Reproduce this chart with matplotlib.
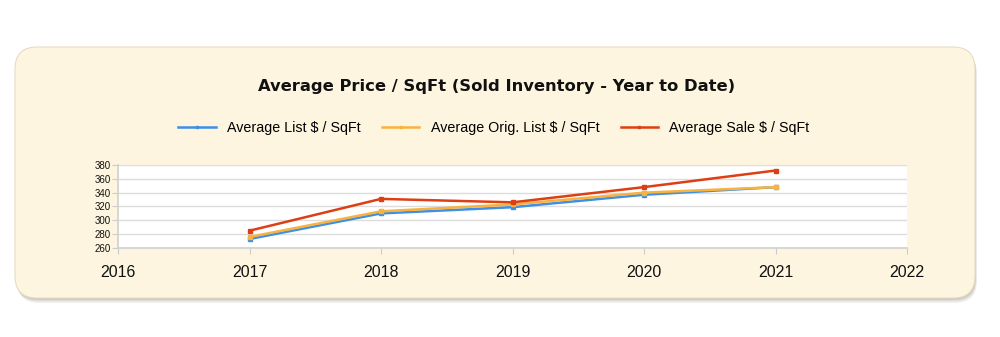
import matplotlib
matplotlib.use('Agg')
import matplotlib.pyplot as plt
from matplotlib.patches import FancyBboxPatch

# Yearly averages, price per square foot
years = [2017, 2018, 2019, 2020, 2021]
avg_list = [273, 310, 319, 337, 348]
avg_orig_list = [276, 313, 323, 340, 348]
avg_sale = [285, 331, 326, 348, 372]

x_ticks = [2016, 2017, 2018, 2019, 2020, 2021, 2022]
y_ticks = [260, 280, 300, 320, 340, 360, 380]

fig = plt.figure(figsize=(10, 3.37), dpi=100)
fig.patch.set_facecolor('white')

# Rounded cream panel with a soft shadow behind it
for off, alpha in [(0.05, 0.12), (0.035, 0.18), (0.02, 0.25)]:
    shadow = FancyBboxPatch((0.15 + off * 0.4, 0.39 - off), 9.6, 2.51,
                            boxstyle='round,pad=0,rounding_size=0.22',
                            transform=fig.dpi_scale_trans, facecolor='#9a9080',
                            edgecolor='none', alpha=alpha, zorder=-2)
    fig.patches.append(shadow)
panel = FancyBboxPatch((0.15, 0.39), 9.6, 2.51,
                       boxstyle='round,pad=0,rounding_size=0.22',
                       transform=fig.dpi_scale_trans, facecolor='#fdf5df',
                       edgecolor='#e6dcc4', linewidth=0.8, zorder=-1)
fig.patches.append(panel)

ax = fig.add_axes([0.118, 0.2641, 0.789, 0.2463])
ax.set_zorder(2)
ax.set_facecolor('white')

ax.plot(years, avg_list, color='#3d8fe8', lw=1.8, marker='s', ms=3, label='Average List $ / SqFt', zorder=3)
ax.plot(years, avg_orig_list, color='#f9b23c', lw=1.8, marker='s', ms=3.5, label='Average Orig. List $ / SqFt', zorder=4)
ax.plot(years, avg_sale, color='#de3e14', lw=1.8, marker='s', ms=3.5, label='Average Sale $ / SqFt', zorder=5)

ax.set_xlim(2016, 2022)
ax.set_ylim(260, 380)
ax.set_xticks(x_ticks)
ax.set_xticklabels([str(v) for v in x_ticks], fontsize=11.5, family='Liberation Sans', color='#111111')
ax.set_yticks(y_ticks)
ax.set_yticklabels([str(v) for v in y_ticks], fontsize=7, family='Liberation Sans', color='#111111')
ax.tick_params(axis='x', length=4, color='#cccccc', pad=8)
ax.tick_params(axis='y', length=4, color='#cccccc', pad=1)
ax.grid(axis='y', color='#dddddd', lw=1)
ax.set_axisbelow(True)
for side in ['top', 'right']:
    ax.spines[side].set_visible(False)
for side in ['left', 'bottom']:
    ax.spines[side].set_color('#d0d0d0')
    ax.spines[side].set_linewidth(1.2)

fig.text(0.497, 0.742, 'Average Price / SqFt (Sold Inventory - Year to Date)',
         ha='center', va='center', fontsize=11.8, fontweight='bold', family='DejaVu Sans', color='#111111')

handles, labels = ax.get_legend_handles_labels()
fig.legend(handles, labels, loc='center', bbox_to_anchor=(0.494, 0.62), ncol=3, frameon=False,
           prop={'family': 'Liberation Sans', 'size': 10.3}, handlelength=2.6, handletextpad=0.8,
           columnspacing=1.5, markerscale=0.5)

fig.savefig('out.png', dpi=100, facecolor='white')
